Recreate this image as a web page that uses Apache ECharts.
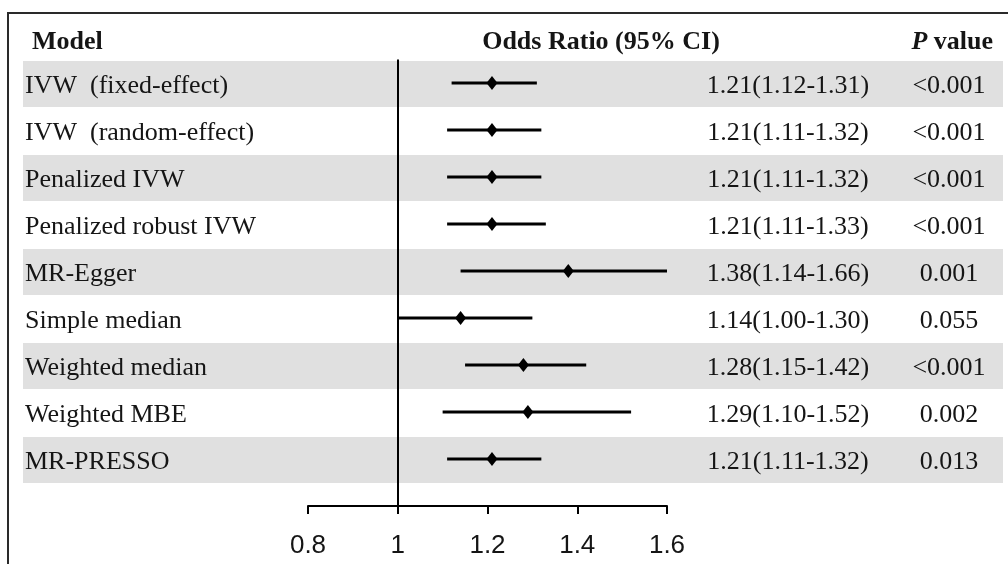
<!DOCTYPE html>
<html>
<head>
<meta charset="utf-8">
<script src="https://cdn.jsdelivr.net/npm/echarts@6/dist/echarts.min.js"></script>
<style>
html,body{margin:0;padding:0;background:#fff;}
#chart{width:1008px;height:564px;}
</style>
</head>
<body>
<div id="chart"></div>
<script>
const models = ['IVW  (fixed-effect)','IVW  (random-effect)','Penalized IVW','Penalized robust IVW','MR-Egger','Simple median','Weighted median','Weighted MBE','MR-PRESSO'];
const orEst  = [1.21,1.21,1.21,1.21,1.38,1.14,1.28,1.29,1.21];
const ciLow  = [1.12,1.11,1.11,1.11,1.14,1.00,1.15,1.10,1.11];
const ciHigh = [1.31,1.32,1.32,1.33,1.66,1.30,1.42,1.52,1.32];
const pValues = ['<0.001','<0.001','<0.001','<0.001','0.001','0.055','<0.001','0.002','0.013'];
const xTicks = [0.8,1,1.2,1.4,1.6];
const headers = ['Model','Odds Ratio (95% CI)','P value'];

const SERIF = '"Liberation Serif","Times New Roman",serif';
const SANS = '"Liberation Sans",Arial,sans-serif';
const TXT = '#151515';

const ciText = orEst.map((e,i)=>e.toFixed(2)+'('+ciLow[i].toFixed(2)+'-'+ciHigh[i].toFixed(2)+')');
const forestData = orEst.map((e,i)=>[e,i,ciLow[i],ciHigh[i]]);
const rowData = models.map((m,i)=>[1,i]);
const stripeData = models.map((m,i)=>[1,i]).filter((d,i)=>i%2===0);

const chart = echarts.init(document.getElementById('chart'), null, {renderer:'canvas'});
chart.setOption({
  animation:false,
  backgroundColor:'#fff',
  grid:{left:308,right:341,top:59.5,bottom:58},
  xAxis:{
    type:'value', min:xTicks[0], max:xTicks[xTicks.length-1], interval:0.2,
    position:'bottom',
    axisLine:{show:true,onZero:false,lineStyle:{color:'#000',width:2}},
    axisTick:{show:true,length:8,lineStyle:{color:'#000',width:2}},
    axisLabel:{fontFamily:SANS,fontSize:26,color:TXT,margin:27},
    splitLine:{show:false}
  },
  yAxis:{type:'value',inverse:true,min:-0.5,max:9,show:false},
  graphic:[
    {type:'rect',silent:true,z:100,shape:{x:8,y:13,width:1020,height:580},style:{fill:null,stroke:'#2a2a2a',lineWidth:2}},
    {type:'text',x:32,y:42,z:50,style:{text:headers[0],font:'bold 26px '+SERIF,fill:TXT,verticalAlign:'middle',align:'left'}},
    {type:'text',x:601,y:42,z:50,style:{text:headers[1],font:'bold 26px '+SERIF,fill:TXT,verticalAlign:'middle',align:'center'}},
    {type:'text',x:993,y:42,z:50,style:{text:'{i|'+headers[2].slice(0,1)+'}{b|'+headers[2].slice(1)+'}',align:'right',verticalAlign:'middle',
      rich:{i:{font:'italic bold 26px '+SERIF,fill:TXT},b:{font:'bold 26px '+SERIF,fill:TXT}}}}
  ],
  series:[
    {
      type:'custom', name:'stripes', silent:true, clip:false, z:1,
      data:stripeData,
      renderItem:function(params,api){
        const y = api.coord([api.value(0),api.value(1)])[1];
        return {type:'rect',shape:{x:23,y:y-22,width:api.getWidth()-28,height:46},style:{fill:'#e0e0e0'}};
      }
    },
    {
      type:'custom', name:'labels', silent:true, clip:false, z:3,
      data:rowData,
      renderItem:function(params,api){
        const i = params.dataIndex;
        const y = api.coord([api.value(0),api.value(1)])[1]+3;
        const font = '26px '+SERIF;
        return {type:'group',children:[
          {type:'text',style:{x:25,y:y,text:models[i],font:font,fill:TXT,align:'left',verticalAlign:'middle'}},
          {type:'text',style:{x:788,y:y,text:ciText[i],font:font,fill:TXT,align:'center',verticalAlign:'middle'}},
          {type:'text',style:{x:949,y:y,text:pValues[i],font:font,fill:TXT,align:'center',verticalAlign:'middle'}}
        ]};
      }
    },
    {
      type:'custom', name:'forest', clip:false, z:5,
      encode:{x:0,y:1},
      data:forestData,
      renderItem:function(params,api){
        const cs = params.coordSys;
        const i = api.value(1);
        const pE = api.coord([api.value(0),i]);
        const pL = api.coord([api.value(2),i]);
        const pH = api.coord([api.value(3),i]);
        const xMin = cs.x, xMax = cs.x+cs.width;
        const xl = Math.max(xMin,Math.min(xMax,pL[0]));
        const xh = Math.max(xMin,Math.min(xMax,pH[0]));
        const x = pE[0], y = pE[1];
        return {type:'group',children:[
          {type:'line',shape:{x1:xl,y1:y,x2:xh,y2:y},style:{stroke:'#000',lineWidth:3}},
          {type:'polygon',shape:{points:[[x,y-7],[x+5.5,y],[x,y+7],[x-5.5,y]]},style:{fill:'#000'}}
        ]};
      },
      markLine:{
        silent:true, symbol:['none','none'], animation:false,
        label:{show:false},
        lineStyle:{color:'#000',width:2,type:'solid'},
        data:[{xAxis:1}]
      }
    }
  ]
});
</script>
</body>
</html>
